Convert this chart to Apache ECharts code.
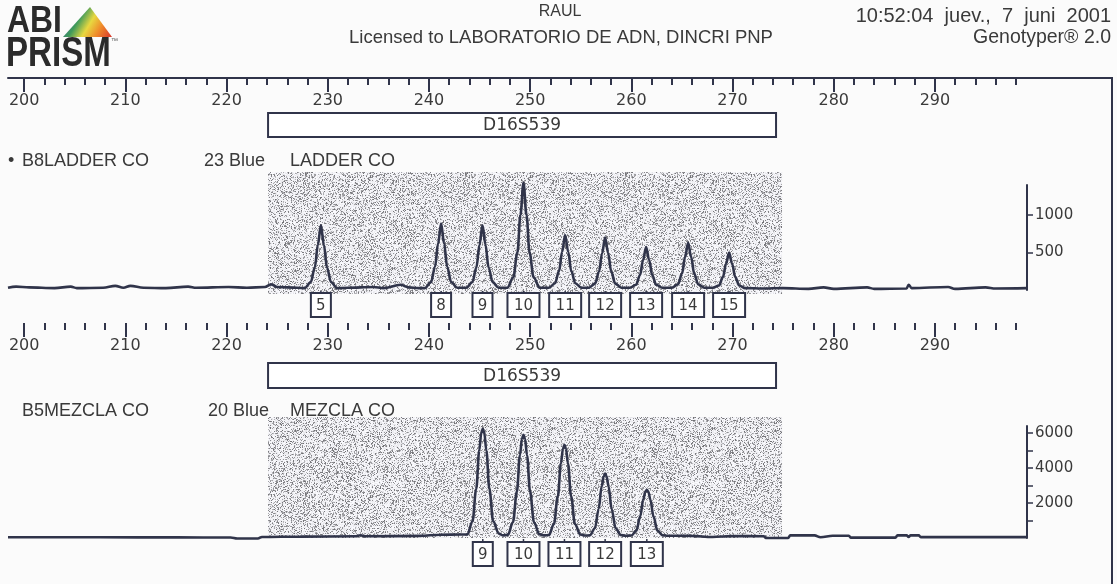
<!DOCTYPE html>
<html>
<head>
<meta charset="utf-8">
<script src="https://cdn.jsdelivr.net/npm/echarts@6/dist/echarts.min.js"></script>
<style>
html,body{margin:0;padding:0;background:#fbfbfb;}
#chart{width:1117px;height:584px;}
</style>
</head>
<body>
<div id="chart"></div>
<script>
// ---------------- data ----------------
const headerTitle = 'RAUL';
const headerLicense = 'Licensed to LABORATORIO DE ADN, DINCRI PNP';
const headerDate = '10:52:04  juev.,  7  juni  2001';
const headerSoftware = 'Genotyper® 2.0';

const sizeRange = [198.4, 299.1];
const rulerMajor = [200, 210, 220, 230, 240, 250, 260, 270, 280, 290];
const rulerMinor = [202, 204, 206, 208, 212, 214, 216, 218, 222, 224, 226, 228, 232, 234, 236, 238,
  242, 244, 246, 248, 252, 254, 256, 258, 262, 264, 266, 268, 272, 274, 276, 278, 282, 284, 286, 288,
  292, 294, 296, 298];

const locusName = 'D16S539';
const locusRange = [224.1, 274.3];

// panel 1: allelic ladder
const ladderSample = ['•', 'B8LADDER CO', '23 Blue', 'LADDER CO'];
const ladderMax = 1400;
const ladderTicks = [500, 1000];
const ladderAlleles = ['5', '8', '9', '10', '11', '12', '13', '14', '15'];
const ladderAlleleBp = [229.32, 241.2, 245.29, 249.34, 253.46, 257.41, 261.46, 265.61, 269.66];
const ladderTrace = [
  [198.4, 30], [199.2, 45], [200.5, 35], [203, 25], [204.6, 45], [205.2, 25], [207.8, 30], [209, 55],
  [209.8, 30], [210.5, 55], [211.8, 30], [214, 25], [216.2, 45], [217, 30], [220.2, 40], [222, 30],
  [223.8, 40], [224.4, 75], [225, 40], [227.0, 30],
  [227.72, 25], [228.32, 105], [228.72, 300], [229.02, 600], [229.32, 862], [229.62, 600], [229.92, 300], [230.32, 105], [230.92, 25],
  [232, 30], [234.5, 40], [235.5, 25], [237.2, 70], [238, 35], [239.0, 25],
  [239.6, 25], [240.2, 105], [240.6, 310], [240.9, 620], [241.2, 885], [241.5, 620], [241.8, 310], [242.2, 105], [242.8, 30],
  [243.69, 30], [244.29, 105], [244.69, 300], [244.99, 600], [245.29, 862], [245.59, 600], [245.89, 300], [246.29, 105], [246.89, 30],
  [247.74, 30], [248.34, 170], [248.74, 500], [249.04, 1000], [249.34, 1430], [249.64, 1000], [249.94, 500], [250.34, 170], [250.94, 30],
  [251.86, 30], [252.46, 90], [252.86, 255], [253.16, 510], [253.46, 731], [253.76, 510], [254.06, 255], [254.46, 90], [255.06, 30],
  [255.81, 30], [256.41, 85], [256.81, 245], [257.11, 490], [257.41, 699], [257.71, 490], [258.01, 245], [258.41, 85], [259.01, 30],
  [259.86, 30], [260.46, 70], [260.86, 200], [261.16, 400], [261.46, 573], [261.76, 400], [262.06, 200], [262.46, 70], [263.06, 30],
  [264.01, 30], [264.61, 75], [265.01, 220], [265.31, 440], [265.61, 629], [265.91, 440], [266.21, 220], [266.61, 75], [267.21, 30],
  [268.06, 30], [268.66, 60], [269.06, 175], [269.36, 350], [269.66, 498], [269.96, 350], [270.26, 175], [270.66, 60], [271.26, 25],
  [273, 20], [275, 25], [277.5, 15], [279, 35], [280, 15], [283.3, 35], [284, 15], [287.2, 20], [287.4, 70],
  [287.7, 25], [291.3, 40], [292, 15], [295, 35], [296, 20], [299.1, 25]
];

// panel 2: sample mixture
const mixSample = ['', 'B5MEZCLA CO', '20 Blue', 'MEZCLA CO'];
const mixMax = 6400;
const mixTicks = [1000, 2000, 3000, 4000, 5000, 6000];
const mixLabels = [2000, 4000, 6000];
const mixAlleles = ['9', '10', '11', '12', '13'];
const mixAlleleBp = [245.32, 249.34, 253.39, 257.41, 261.53];
const mixTrace = [
  [198.4, 40], [207.5, 40], [215, 35], [220.4, 30], [221.05, -30], [223.1, -30], [223.5, 60], [227.3, 80],
  [232.8, 100], [233.2, 160], [233.7, 100], [239.1, 120], [241.1, 190], [243.1, 200],
  [243.8, 200], [244.3, 950], [244.67, 2800], [244.97, 5000], [245.17, 6000], [245.32, 6240], [245.47, 6000], [245.67, 5000], [245.97, 2800], [246.35, 950], [246.9, 250], [247.3, 150],
  [247.8, 180], [248.3, 900], [248.69, 2650], [248.99, 4730], [249.19, 5670], [249.34, 5900], [249.49, 5670], [249.69, 4730], [249.99, 2650], [250.38, 900], [250.9, 220], [251.35, 150],
  [251.85, 170], [252.35, 800], [252.74, 2400], [253.04, 4260], [253.24, 5100], [253.39, 5320], [253.54, 5100], [253.74, 4260], [254.04, 2400], [254.43, 800], [254.95, 200], [255.4, 140],
  [255.9, 150], [256.4, 560], [256.77, 1660], [257.07, 2950], [257.27, 3530], [257.41, 3680], [257.55, 3530], [257.75, 2950], [258.05, 1660], [258.45, 560], [258.95, 170], [259.4, 130],
  [260.0, 140], [260.5, 420], [260.88, 1240], [261.18, 2200], [261.38, 2640], [261.53, 2750], [261.68, 2640], [261.88, 2200], [262.18, 1240], [262.58, 420], [263.1, 150], [263.6, 130],
  [266, 120], [268, 60], [270, 110], [273.1, 100], [273.3, 0], [275.5, 0], [275.7, 150], [278.1, 150],
  [278.7, 40], [279.9, 130], [281.5, 130], [281.7, 20], [286.1, 20], [286.3, 150], [287.2, 150], [287.4, 60],
  [287.6, 150], [288.4, 150], [288.6, 50], [299.1, 50]
];

// ---------------- styles ----------------
const INK = '#30344a';
const TXT = '#3a3a3a';
const FONT = 'Liberation Sans';
const DIGITS = 'DejaVu Sans';

function makeStipple() {
  const N = 160;
  const c = document.createElement('canvas');
  c.width = N; c.height = N;
  const ctx = c.getContext('2d');
  const img = ctx.createImageData(N, N);
  for (let y = 0; y < N; y++) {
    for (let x = 0; x < N; x++) {
      let h = Math.imul(x * 73856093 ^ y * 19349663, 2654435761) >>> 0;
      h = (h ^ (h >>> 13)) >>> 0;
      h = Math.imul(h, 1274126177) >>> 0;
      h = (h ^ (h >>> 16)) >>> 0;
      const r = (h % 1000) / 1000;
      const v = r < 0.30 ? 110 + ((h >>> 11) % 80) : 230 + ((h >>> 14) % 24);
      const i = (y * N + x) * 4;
      img.data[i] = v; img.data[i + 1] = v; img.data[i + 2] = Math.min(255, v + 4); img.data[i + 3] = 255;
    }
  }
  ctx.putImageData(img, 0, 0);
  return c;
}
const stipple = makeStipple();

const chart = echarts.init(document.getElementById('chart'));

function rulerAxes(gridIndex, offset, showLine) {
  return [
    {
      type: 'value', gridIndex, position: 'top', offset,
      min: sizeRange[0], max: sizeRange[1],
      axisLine: { show: showLine, onZero: false, lineStyle: { color: INK, width: 2 } },
      axisTick: { show: true, inside: true, length: 14, customValues: rulerMajor, lineStyle: { color: INK, width: 2 } },
      axisLabel: { show: true, inside: true, margin: 15, customValues: rulerMajor, color: TXT,
        fontFamily: DIGITS, fontSize: 16 },
      splitLine: { show: false }
    },
    {
      type: 'value', gridIndex, position: 'top', offset,
      min: sizeRange[0], max: sizeRange[1],
      axisLine: { show: false, onZero: false },
      axisTick: { show: true, inside: true, length: 7, customValues: rulerMinor, lineStyle: { color: INK, width: 2 } },
      axisLabel: { show: false },
      splitLine: { show: false }
    }
  ];
}

function yAxisDef(gridIndex, max, ticks, labels) {
  return {
    type: 'value', gridIndex, position: 'right', min: 0, max,
    axisLine: { show: true, onZero: false, lineStyle: { color: INK, width: 2 } },
    axisTick: { show: true, length: 6, customValues: ticks, lineStyle: { color: INK, width: 1.5 } },
    axisLabel: { show: true, margin: 8, customValues: labels, color: TXT, fontFamily: DIGITS, fontSize: 15,
      formatter: function (v) { return String(v); } },
    splitLine: { show: false }
  };
}

function locusSeries(axisIdx, yAxisIdx, boxTop, boxH, shadeTop, shadeBottom) {
  return {
    type: 'custom', xAxisIndex: axisIdx, yAxisIndex: yAxisIdx, z: 1, silent: true,
    data: [[locusRange[0], locusRange[1]]],
    encode: { x: [0, 1] },
    renderItem: function (params, api) {
      const cs = params.coordSys;
      const x0 = api.coord([api.value(0), 0])[0];
      const x1 = api.coord([api.value(1), 0])[0];
      return {
        type: 'group',
        children: [
          { type: 'rect', shape: { x: x0, y: cs.y - shadeTop, width: x1 - x0 + 6, height: cs.height + shadeTop + shadeBottom },
            style: { fill: { image: stipple, repeat: 'repeat' } } },
          { type: 'rect', shape: { x: x0, y: cs.y - boxTop, width: x1 - x0, height: boxH },
            style: { fill: '#ffffff', stroke: INK, lineWidth: 2 } },
          { type: 'text', x: (x0 + x1) / 2, y: cs.y - boxTop + boxH / 2 + 1,
            style: { text: locusName, fill: TXT, font: '17px "' + DIGITS + '"', align: 'center', verticalAlign: 'middle' } }
        ]
      };
    }
  };
}

function alleleSeries(axisIdx, yAxisIdx, bps, labels, gap) {
  return {
    type: 'custom', xAxisIndex: axisIdx, yAxisIndex: yAxisIdx, z: 5, silent: true,
    data: bps.map(function (b) { return [b, 0]; }),
    encode: { x: 0, y: 1 },
    renderItem: function (params, api) {
      const p = api.coord([api.value(0), 0]);
      const label = labels[params.dataIndex];
      const w = label.length > 1 ? 32 : 20;
      const h = 24;
      const top = p[1] + gap;
      return {
        type: 'group',
        children: [
          { type: 'line', shape: { x1: p[0], y1: p[1] + 1, x2: p[0], y2: top }, style: { stroke: INK, lineWidth: 1.5 } },
          { type: 'rect', shape: { x: p[0] - w / 2, y: top, width: w, height: h }, style: { fill: '#ffffff', stroke: INK, lineWidth: 2 } },
          { type: 'text', x: p[0], y: top + h / 2 + 1,
            style: { text: label, fill: TXT, font: '15px "' + DIGITS + '"', align: 'center', verticalAlign: 'middle' } }
        ]
      };
    }
  };
}

function traceSeries(axisIdx, yAxisIdx, data) {
  return {
    type: 'line', xAxisIndex: axisIdx, yAxisIndex: yAxisIdx, z: 3, clip: false,
    data, showSymbol: false, symbol: 'none', smooth: 0.35, smoothMonotone: 'x',
    lineStyle: { color: INK, width: 2.6 }, animation: false
  };
}

const ruler1 = rulerAxes(0, 107, true);
const ruler2 = rulerAxes(1, 103, false);

function sampleTexts(y, parts, xs) {
  return parts.map(function (t, i) {
    return { type: 'text', left: xs[i], top: y, style: { text: t, fill: TXT, font: '18px "' + FONT + '"' } };
  });
}

const option = {
  animation: false,
  backgroundColor: '#fbfbfb',
  grid: [
    { left: 8, right: 90, top: 185, bottom: 294 },
    { left: 8, right: 90, top: 426, bottom: 46 }
  ],
  xAxis: [ruler1[0], ruler1[1], ruler2[0], ruler2[1]],
  yAxis: [
    yAxisDef(0, ladderMax, ladderTicks, ladderTicks),
    yAxisDef(1, mixMax, mixTicks, mixLabels)
  ],
  series: [
    locusSeries(0, 0, 72, 24, 13, 4),
    traceSeries(0, 0, ladderTrace),
    alleleSeries(0, 0, ladderAlleleBp, ladderAlleles, 3),
    locusSeries(2, 1, 63, 25, 9, 0),
    traceSeries(2, 1, mixTrace),
    alleleSeries(2, 1, mixAlleleBp, mixAlleles, 4)
  ],
  graphic: [
    // logo
    { type: 'text', x: 7, y: 3, scaleX: 0.86, style: { text: 'ABI', fill: '#2b2b2b', font: 'bold 37px "Liberation Sans"' } },
    { type: 'text', x: 6, y: 33, scaleX: 0.77, style: { text: 'PRISM', fill: '#2b2b2b', font: 'bold 43px "Liberation Sans"' } },
    { type: 'text', x: 111, y: 38, style: { text: '™', fill: '#555', font: '7px "Liberation Sans"' } },
    { type: 'polygon', shape: { points: [[90, 7], [63, 37], [112, 37]] },
      style: { fill: new echarts.graphic.LinearGradient(0, 0, 1, 1, [
        { offset: 0, color: '#3d4fb0' }, { offset: 0.35, color: '#3f9a5a' }, { offset: 0.55, color: '#e8d840' },
        { offset: 0.75, color: '#ef8a2a' }, { offset: 1, color: '#d8342c' }]) } },
    // header
    { type: 'text', x: 560, y: 4, style: { text: headerTitle, fill: TXT, font: '16px "Liberation Sans"', align: 'center' } },
    { type: 'text', x: 561, y: 28, style: { text: headerLicense, fill: TXT, font: '18.5px "Liberation Sans"', align: 'center' } },
    { type: 'text', x: 1111, y: 6, style: { text: headerDate, fill: TXT, font: '20px "Liberation Sans"', align: 'right' } },
    { type: 'text', x: 1111, y: 28, style: { text: headerSoftware, fill: TXT, font: '19.5px "Liberation Sans"', align: 'right' } },
    // frame
    { type: 'line', shape: { x1: 1027, y1: 78, x2: 1112, y2: 78 }, style: { stroke: INK, lineWidth: 2 } },
    { type: 'line', shape: { x1: 1112, y1: 77, x2: 1112, y2: 584 }, style: { stroke: INK, lineWidth: 2 } },
    // sample labels
    ...sampleTexts(152, ladderSample, [8, 22, 204, 290]),
    ...sampleTexts(402, mixSample, [8, 22, 208, 290])
  ]
};
chart.setOption(option);
</script>
</body>
</html>
